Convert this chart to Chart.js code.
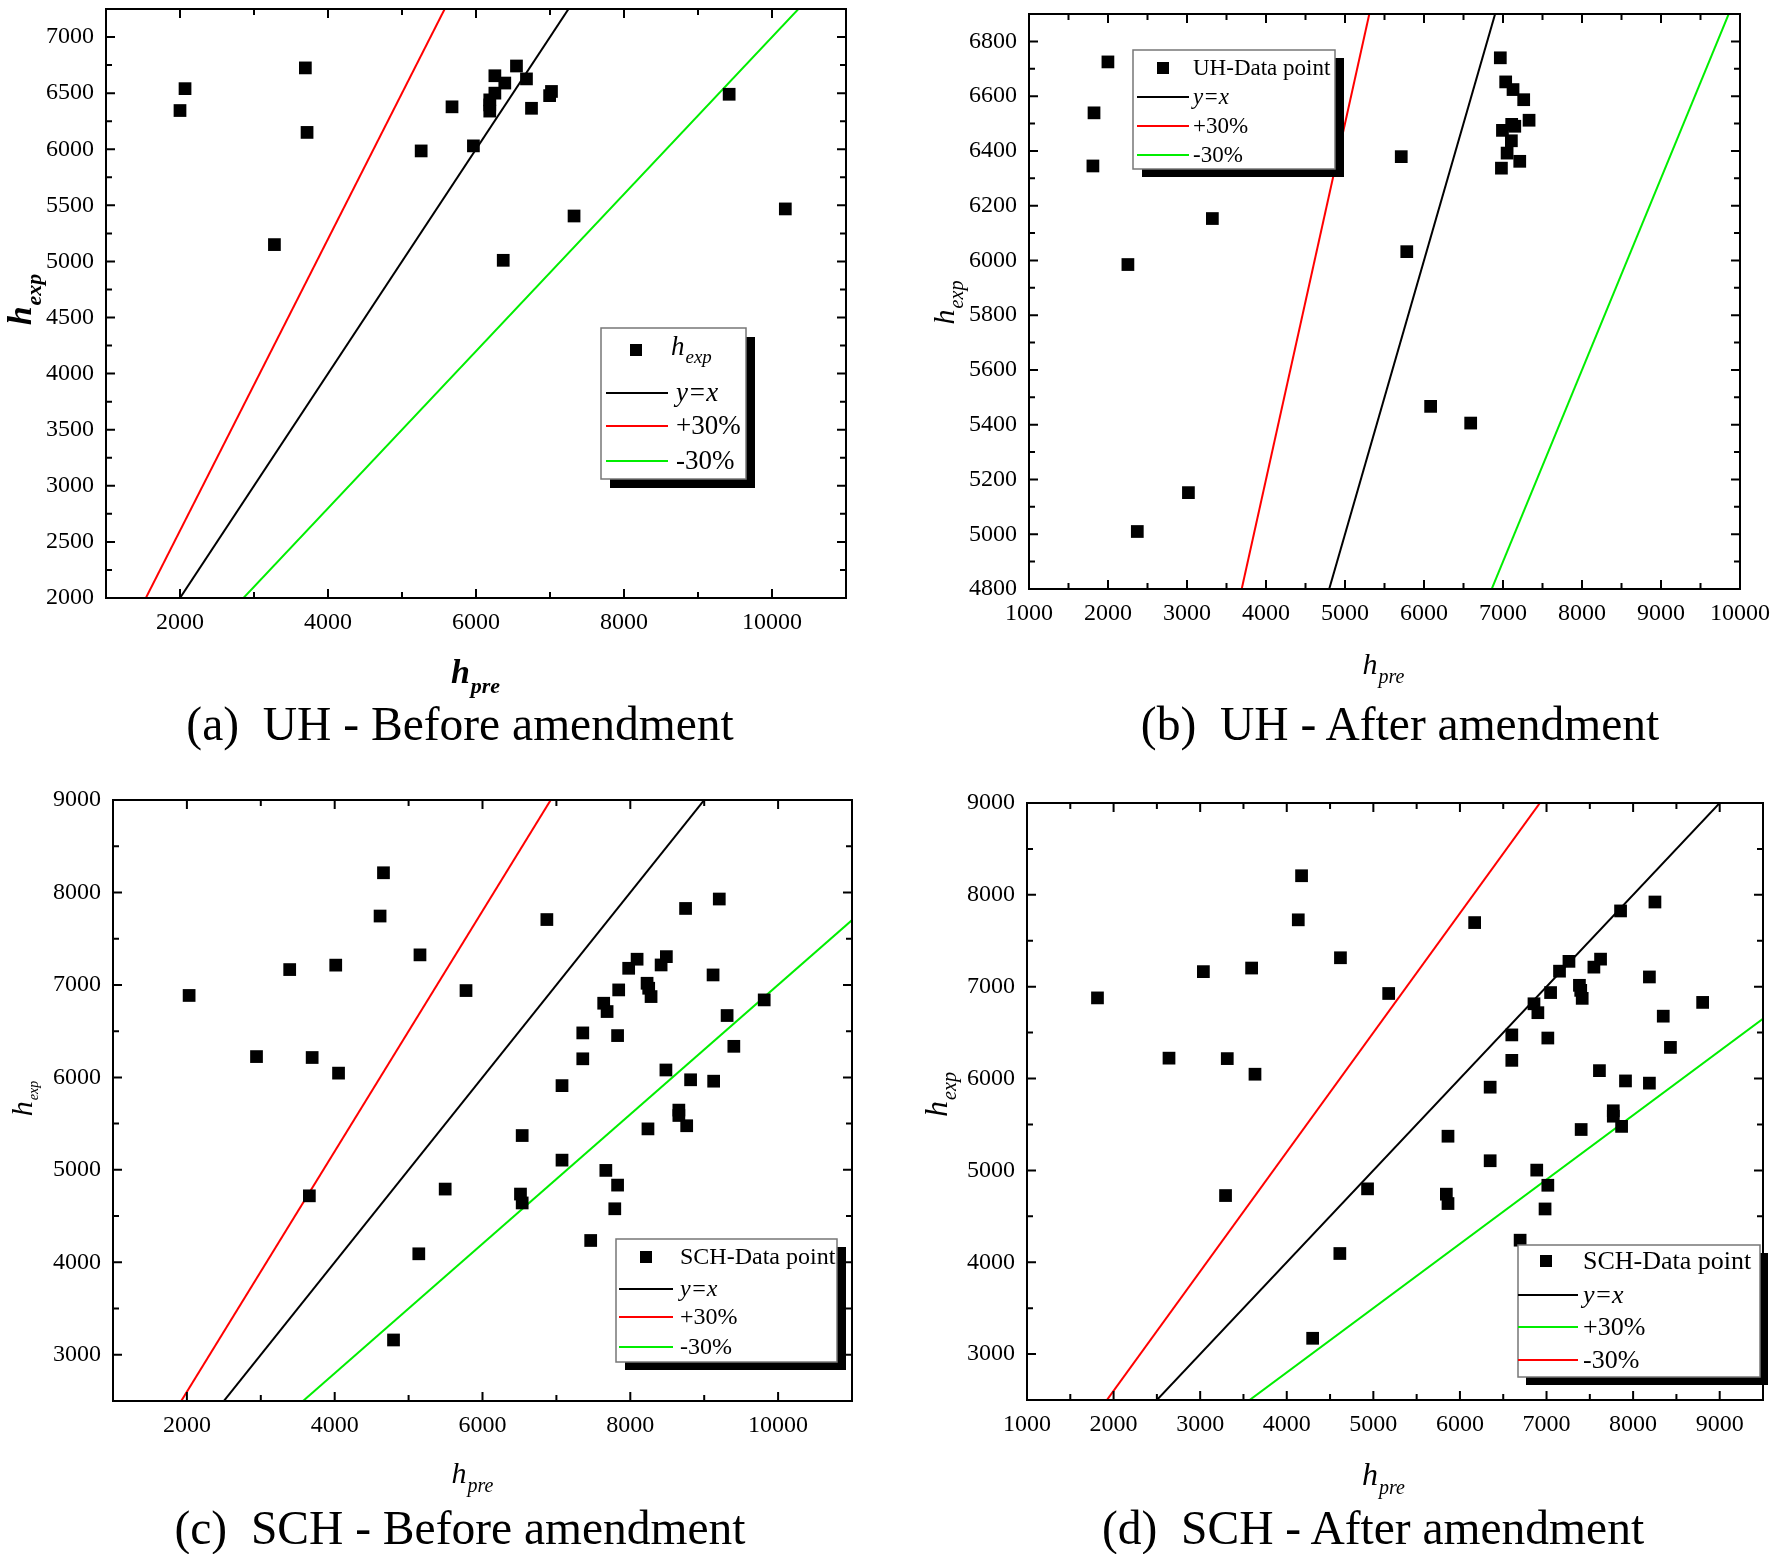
<!DOCTYPE html>
<html>
<head>
<meta charset="utf-8">
<title>h_exp vs h_pre</title>
<script src="https://cdn.jsdelivr.net/npm/chart.js@4.4.0/dist/chart.umd.min.js"></script>
<style>
    body {
        margin: 0;
        width: 1772px;
        height: 1554px;
        position: relative;
        overflow: hidden;
        background: #fff;
        font-family: 'Liberation Serif', 'Times New Roman', serif;
    }
    .panel { position: absolute; }
    .caption {
        position: absolute;
        font-size: 47.5px;
        color: #000;
        white-space: pre;
        transform: translate(-50%, -50%);
    }
</style>
</head>
<body>
<div class="panel" style="left:0;top:0;width:886px;height:700px"><canvas id="chartA"></canvas></div>
<div class="panel" style="left:886px;top:0;width:886px;height:700px"><canvas id="chartB"></canvas></div>
<div class="panel" style="left:0;top:776px;width:886px;height:730px"><canvas id="chartC"></canvas></div>
<div class="panel" style="left:886px;top:776px;width:886px;height:730px"><canvas id="chartD"></canvas></div>

<div class="caption" style="left:460px;top:724px">(a)  UH - Before amendment</div>
<div class="caption" style="left:1400px;top:724px">(b)  UH - After amendment</div>
<div class="caption" style="left:460px;top:1528px">(c)  SCH - Before amendment</div>
<div class="caption" style="left:1373px;top:1528px">(d)  SCH - After amendment</div>

<script>
// (a) UH before amendment
const uhBeforePre = [2000, 2068, 3694, 3717, 3276, 5259, 5676, 5965, 6255, 6389, 6547, 6682,
    6255, 6186, 6186, 6186, 6750, 7020, 6995, 6368, 7325, 9421, 10180];
const uhBeforeExp = [6345, 6540, 6725, 6150, 5150, 5985, 6378, 6030, 6655, 6590, 6742, 6627,
    6500, 6440, 6395, 6340, 6365, 6515, 6478, 5010, 5405, 6490, 5468];

// (b) UH after amendment
const uhAfterPre = [1809, 1823, 1999, 3321, 2252, 3018, 2371, 5712, 5782, 6084, 6591, 6966,
    7034, 7127, 7262, 7330, 7149, 7110, 6993, 7106, 7052, 7212, 6980];
const uhAfterExp = [6345, 6539, 6725, 6153, 5985, 5152, 5010, 6379, 6032, 5467, 5406, 6740,
    6652, 6624, 6587, 6512, 6490, 6497, 6475, 6437, 6392, 6362, 6337];

// (c) SCH before amendment
const schBeforePre = [2030, 2942, 3391, 3695, 3657, 4014, 4052, 4614, 4660, 5154, 5138, 4796,
    5495, 5777, 6871, 6537, 6514, 6537, 7076, 7076, 7357, 7357, 7464, 7640, 7686, 7669, 7828,
    7843, 7828, 7790, 7978, 8092, 8227, 8249, 8281, 8417, 8488, 8239, 8482, 8748, 8816, 8657,
    8657, 8763, 9120, 9128, 9204, 9310, 9401, 9812];
const schBeforeExp = [6886, 6225, 7166, 6215, 4719, 7214, 6046, 7745, 8213, 7325, 4092, 3160,
    4792, 6939, 7707, 5371, 4738, 4642, 5911, 5105, 6481, 6201, 4236, 6802, 6712, 4994, 6452,
    6946, 4835, 4579, 7180, 7278, 7018, 6964, 6874, 7216, 7306, 5443, 6080, 7827, 5974, 5646,
    5588, 5477, 7108, 5959, 7929, 6669, 6336, 6838];

// (d) SCH after amendment
const schAfterPre = [1814, 2640, 3037, 3313, 3293, 3594, 3633, 4133, 4171, 4620, 4613, 4299,
    4933, 5177, 6170, 5862, 5843, 5862, 6349, 6349, 6599, 6599, 6695, 6855, 6900, 6887, 7015,
    7047, 7015, 6983, 7150, 7259, 7380, 7395, 7412, 7547, 7624, 7400, 7611, 7855, 7912, 7771,
    7771, 7867, 8188, 8188, 8252, 8348, 8431, 8803];
const schAfterExp = [6878, 6222, 7164, 6217, 4726, 7203, 6047, 7728, 8208, 7315, 4095, 3172,
    4799, 6926, 7698, 5372, 4741, 4639, 5906, 5105, 6475, 6198, 4240, 6814, 6717, 5003, 6441,
    6936, 4838, 4580, 7169, 7276, 7015, 6960, 6873, 7213, 7300, 5445, 6086, 7825, 5974, 5649,
    5590, 5479, 7106, 5950, 7922, 6679, 6339, 6829];

// reference lines (end points)
const refX = [0, 12000];
const refYeqX = [0, 12000];
const refPlus30 = [0, 15600];
const refMinus30 = [0, 8400];

// tick labels
const uhBeforeXTicks = [2000, 4000, 6000, 8000, 10000];
const uhBeforeYTicks = [2000, 2500, 3000, 3500, 4000, 4500, 5000, 5500, 6000, 6500, 7000];
const uhAfterXTicks = [1000, 2000, 3000, 4000, 5000, 6000, 7000, 8000, 9000, 10000];
const uhAfterYTicks = [4800, 5000, 5200, 5400, 5600, 5800, 6000, 6200, 6400, 6600, 6800];
const schBeforeXTicks = [2000, 4000, 6000, 8000, 10000];
const schBeforeYTicks = [3000, 4000, 5000, 6000, 7000, 8000, 9000];
const schAfterXTicks = [1000, 2000, 3000, 4000, 5000, 6000, 7000, 8000, 9000];
const schAfterYTicks = [3000, 4000, 5000, 6000, 7000, 8000, 9000];

const FONT = "'Liberation Serif', 'Times New Roman', serif";
const RED = '#ff0000';
const GREEN = '#00ee00';

Chart.defaults.font.family = FONT;
Chart.defaults.color = '#000';

function toPoints(xs, ys) {
    return xs.map((x, i) => ({ x: x, y: ys[i] }));
}

// h + subscript, optionally rotated
function drawSubText(ctx, cx, cy, main, sub, size, subSize, style, rotate) {
    ctx.save();
    ctx.translate(cx, cy);
    if (rotate) ctx.rotate(-Math.PI / 2);
    const f1 = `${style} ${size}px ${FONT}`;
    const f2 = `${style} ${subSize}px ${FONT}`;
    ctx.font = f1;
    const w1 = ctx.measureText(main).width;
    ctx.font = f2;
    const w2 = ctx.measureText(sub).width;
    const x0 = -(w1 + w2) / 2;
    const base = size * 0.33;
    ctx.fillStyle = '#000';
    ctx.textBaseline = 'alphabetic';
    ctx.textAlign = 'left';
    ctx.font = f1;
    ctx.fillText(main, x0, base);
    ctx.font = f2;
    ctx.fillText(sub, x0 + w1 + 1, base + subSize * 0.45);
    ctx.restore();
}

function drawLegend(chart, lg) {
    const ctx = chart.ctx;
    const [bx, by, bw, bh] = lg.box;
    ctx.save();
    ctx.fillStyle = '#000';
    ctx.fillRect(bx + lg.shadow[0], by + lg.shadow[1], bw, bh);
    ctx.fillStyle = '#fff';
    ctx.fillRect(bx, by, bw, bh);
    ctx.strokeStyle = '#777';
    ctx.lineWidth = 1.5;
    ctx.strokeRect(bx, by, bw, bh);

    chart.data.datasets.forEach((ds, i) => {
        const cy = lg.rows[i];
        if (ds.showLine) {
            ctx.strokeStyle = ds.borderColor;
            ctx.lineWidth = 2;
            ctx.beginPath();
            ctx.moveTo(lg.lineX[0], cy);
            ctx.lineTo(lg.lineX[1], cy);
            ctx.stroke();
        } else {
            ctx.fillStyle = '#000';
            ctx.fillRect(lg.markerX - 6, cy - 6, 12, 12);
        }
        const label = ds.label;
        if (label.includes('_')) {
            const [m, s] = label.split('_');
            ctx.save();
            ctx.font = `italic ${lg.size}px ${FONT}`;
            const w = ctx.measureText(m).width;
            ctx.restore();
            drawSubText(ctx, lg.textX + (w + lg.size * 0.6) / 2, cy - 4, m, s, lg.size, lg.size * 0.7, 'italic', false);
        } else {
            ctx.fillStyle = '#000';
            ctx.font = `${label === 'y=x' ? 'italic ' : ''}${lg.size}px ${FONT}`;
            ctx.textBaseline = 'middle';
            ctx.textAlign = 'left';
            ctx.fillText(label, lg.textX, cy + 1);
        }
    });
    ctx.restore();
}

function drawDecor(chart, cfg) {
    const ctx = chart.ctx;
    const a = chart.chartArea;
    const xs = chart.scales.x;
    const ys = chart.scales.y;
    ctx.save();
    ctx.strokeStyle = '#000';
    ctx.lineWidth = 2;
    ctx.strokeRect(a.left, a.top, a.right - a.left, a.bottom - a.top);

    // inward ticks on all four sides
    ctx.beginPath();
    for (let v = Math.ceil(xs.min / cfg.xMinor) * cfg.xMinor; v <= xs.max; v += cfg.xMinor) {
        const p = xs.getPixelForValue(v);
        const len = cfg.xTicks.includes(v) ? 9 : 6;
        ctx.moveTo(p, a.bottom); ctx.lineTo(p, a.bottom - len);
        ctx.moveTo(p, a.top); ctx.lineTo(p, a.top + len);
    }
    for (let v = Math.ceil(ys.min / cfg.yMinor) * cfg.yMinor; v <= ys.max; v += cfg.yMinor) {
        const p = ys.getPixelForValue(v);
        const len = cfg.yTicks.includes(v) ? 9 : 6;
        ctx.moveTo(a.left, p); ctx.lineTo(a.left + len, p);
        ctx.moveTo(a.right, p); ctx.lineTo(a.right - len, p);
    }
    ctx.stroke();
    ctx.restore();

    const t = cfg.titles;
    drawSubText(ctx, t.y[0], t.y[1], 'h', 'exp', t.size, t.ySub, t.style, true);
    drawSubText(ctx, t.x[0], t.x[1], 'h', 'pre', t.size, t.xSub, t.style, false);

    drawLegend(chart, cfg.legend);
}

function makePanel(id, cfg) {
    const canvas = document.getElementById(id);
    const W = canvas.parentNode.clientWidth;
    const H = canvas.parentNode.clientHeight;
    const area = cfg.area;

    return new Chart(canvas.getContext('2d'), {
        type: 'scatter',
        data: {
            datasets: [{
                label: cfg.labels[0],
                data: toPoints(cfg.pre, cfg.exp),
                pointStyle: 'rect',
                pointRadius: 9,
                pointBorderWidth: 0,
                backgroundColor: '#000',
                borderColor: '#000'
            }, {
                label: cfg.labels[1],
                data: toPoints(refX, refYeqX),
                showLine: true,
                pointRadius: 0,
                borderColor: '#000',
                borderWidth: 2
            }, {
                label: cfg.labels[2],
                data: toPoints(refX, cfg.lineData[0]),
                showLine: true,
                pointRadius: 0,
                borderColor: cfg.lineColors[0],
                borderWidth: 2
            }, {
                label: cfg.labels[3],
                data: toPoints(refX, cfg.lineData[1]),
                showLine: true,
                pointRadius: 0,
                borderColor: cfg.lineColors[1],
                borderWidth: 2
            }]
        },
        options: {
            responsive: true,
            maintainAspectRatio: false,
            animation: false,
            layout: {
                padding: { left: 0, top: area.t, right: W - area.r, bottom: 0 }
            },
            plugins: {
                legend: { display: false },
                tooltip: { enabled: false }
            },
            scales: {
                x: {
                    type: 'linear',
                    min: cfg.xRange[0],
                    max: cfg.xRange[1],
                    grid: { display: false, drawTicks: false },
                    border: { display: false },
                    ticks: {
                        font: { family: FONT, size: 24 },
                        color: '#000',
                        padding: 10,
                        maxRotation: 0,
                        autoSkip: false,
                        callback: v => String(v)
                    },
                    afterBuildTicks: s => { s.ticks = cfg.xTicks.map(v => ({ value: v })); },
                    afterFit: s => { s.height = H - area.b; s.paddingLeft = 0; s.paddingRight = 0; }
                },
                y: {
                    type: 'linear',
                    min: cfg.yRange[0],
                    max: cfg.yRange[1],
                    grid: { display: false, drawTicks: false },
                    border: { display: false },
                    ticks: {
                        font: { family: FONT, size: 24 },
                        color: '#000',
                        padding: 12,
                        autoSkip: false,
                        callback: v => String(v)
                    },
                    afterBuildTicks: s => { s.ticks = cfg.yTicks.map(v => ({ value: v })); },
                    afterFit: s => { s.width = area.l; s.paddingTop = 0; s.paddingBottom = 0; }
                }
            }
        },
        plugins: [{ id: 'decor', afterDraw: chart => drawDecor(chart, cfg) }]
    });
}

// (a)
makePanel('chartA', {
    pre: uhBeforePre, exp: uhBeforeExp,
    labels: ['h_exp', 'y=x', '+30%', '-30%'],
    lineData: [refPlus30, refMinus30], lineColors: [RED, GREEN],
    xRange: [1000, 11000], yRange: [2000, 7250],
    xTicks: uhBeforeXTicks, yTicks: uhBeforeYTicks, xMinor: 1000, yMinor: 250,
    area: { l: 106, t: 3, r: 846, b: 598 },
    titles: { y: [20, 300], x: [475, 672], size: 34, ySub: 22, xSub: 22, style: 'bold italic' },
    legend: { box: [601, 328, 145, 151], shadow: [9, 9], rows: [350, 393, 426, 461],
              lineX: [606, 668], markerX: 636, textX: 676, size: 27 }
});

// (b)
makePanel('chartB', {
    pre: uhAfterPre, exp: uhAfterExp,
    labels: ['UH-Data point', 'y=x', '+30%', '-30%'],
    lineData: [refPlus30, refMinus30], lineColors: [RED, GREEN],
    xRange: [1000, 10000], yRange: [4800, 6900],
    xTicks: uhAfterXTicks, yTicks: uhAfterYTicks, xMinor: 500, yMinor: 100,
    area: { l: 143, t: 14, r: 854, b: 589 },
    titles: { y: [58, 303], x: [497, 664], size: 30, ySub: 20, xSub: 20, style: 'italic' },
    legend: { box: [247, 50, 202, 119], shadow: [9, 8], rows: [68, 97, 126, 155],
              lineX: [251, 303], markerX: 277, textX: 307, size: 23 }
});

// (c)
makePanel('chartC', {
    pre: schBeforePre, exp: schBeforeExp,
    labels: ['SCH-Data point', 'y=x', '+30%', '-30%'],
    lineData: [refPlus30, refMinus30], lineColors: [RED, GREEN],
    xRange: [1000, 11000], yRange: [2500, 9000],
    xTicks: schBeforeXTicks, yTicks: schBeforeYTicks, xMinor: 1000, yMinor: 500,
    area: { l: 113, t: 24, r: 852, b: 625 },
    titles: { y: [22, 323], x: [472, 697], size: 30, ySub: 14, xSub: 20, style: 'italic' },
    legend: { box: [616, 463, 221, 123], shadow: [9, 8], rows: [481, 513, 541, 571],
              lineX: [619, 673], markerX: 646, textX: 680, size: 24 }
});

// (d) legend colours are swapped in the original figure
makePanel('chartD', {
    pre: schAfterPre, exp: schAfterExp,
    labels: ['SCH-Data point', 'y=x', '+30%', '-30%'],
    lineData: [refMinus30, refPlus30], lineColors: [GREEN, RED],
    xRange: [1000, 9500], yRange: [2500, 9000],
    xTicks: schAfterXTicks, yTicks: schAfterYTicks, xMinor: 500, yMinor: 500,
    area: { l: 141, t: 27, r: 877, b: 624 },
    titles: { y: [50, 319], x: [497, 698], size: 32, ySub: 20, xSub: 20, style: 'italic' },
    legend: { box: [632, 469, 242, 132], shadow: [8, 8], rows: [485, 519, 551, 584],
              lineX: [632, 692], markerX: 660, textX: 697, size: 26 }
});
</script>
</body>
</html>
